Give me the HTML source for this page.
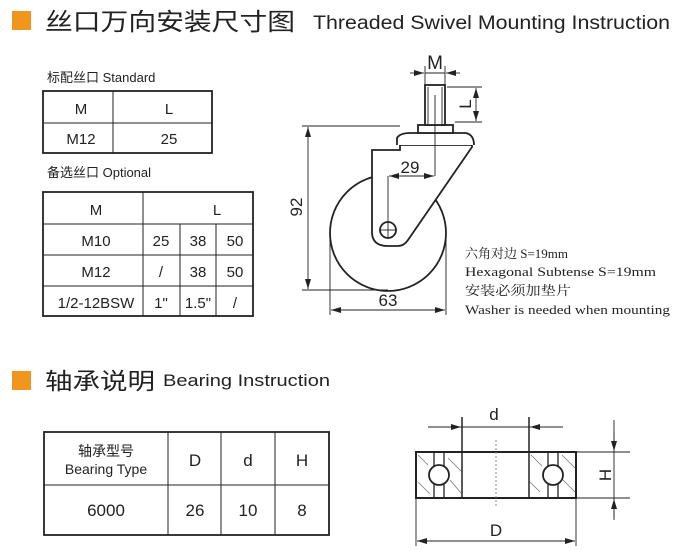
<!DOCTYPE html>
<html><head><meta charset="utf-8"><style>
html,body{margin:0;padding:0;background:#fff;}
svg{display:block;}
.s{font-family:"Liberation Sans","Noto Sans CJK SC",sans-serif;fill:#222;}
.f{font-family:"Liberation Serif","Noto Serif CJK SC",serif;fill:#222;}
</style></head><body>
<svg width="679" height="553" viewBox="0 0 679 553" xmlns="http://www.w3.org/2000/svg">
<defs>
<marker id="a" viewBox="0 0 10 6" refX="10" refY="3" markerWidth="10" markerHeight="6" markerUnits="userSpaceOnUse" orient="auto"><path d="M0,0 L10,3 L0,6 z" fill="#222"/></marker>
</defs>
<rect x="12" y="11" width="19" height="19" fill="#f0961e"/>
<text x="45" y="30" class="s" font-size="24" textLength="250" lengthAdjust="spacingAndGlyphs">丝口万向安装尺寸图</text>
<text x="313" y="29" class="s" font-size="19" textLength="357" lengthAdjust="spacingAndGlyphs">Threaded Swivel Mounting Instruction</text>

<text x="47" y="82" class="s" font-size="13">标配丝口 Standard</text>
<g stroke="#222" fill="none">
<rect x="43" y="91" width="169" height="62" stroke-width="1.8"/>
<line x1="43" y1="123" x2="212" y2="123"/>
<line x1="113" y1="91" x2="113" y2="153"/>
</g>
<g class="s" font-size="15" text-anchor="middle">
<text x="81" y="114">M</text><text x="169" y="114">L</text>
<text x="81" y="144">M12</text><text x="169" y="144">25</text>
</g>

<text x="47" y="177" class="s" font-size="13">备选丝口 Optional</text>
<g stroke="#222" fill="none">
<rect x="43" y="192" width="210" height="124" stroke-width="1.8"/>
<line x1="43" y1="224" x2="253" y2="224"/>
<line x1="43" y1="255" x2="253" y2="255"/>
<line x1="43" y1="286" x2="253" y2="286"/>
<line x1="143" y1="192" x2="143" y2="316"/>
<line x1="180" y1="224" x2="180" y2="316"/>
<line x1="216" y1="224" x2="216" y2="316"/>
</g>
<g class="s" font-size="15" text-anchor="middle">
<text x="96" y="215">M</text><text x="217" y="215">L</text>
<text x="96" y="246">M10</text><text x="161" y="246">25</text><text x="198" y="246">38</text><text x="235" y="246">50</text>
<text x="96" y="277">M12</text><text x="161" y="277">/</text><text x="198" y="277">38</text><text x="235" y="277">50</text>
<text x="96" y="308">1/2-12BSW</text><text x="161" y="308">1"</text><text x="198" y="308">1.5"</text><text x="235" y="308">/</text>
</g>

<g stroke="#222" fill="none" stroke-width="1.8">
<circle cx="388" cy="233" r="58"/>
<path d="M372,150 L372,232 Q372,246 388,246 L398,246 Q404,246 408,240 L472,147 L472,145 L400,145 L400,150 Z" fill="#fff"/>
<path d="M397,145 L397,138 Q400,133 410,133 L466,133 Q474,135 474,145" fill="#fff"/>
<rect x="418" y="125" width="35" height="8" fill="#fff"/>
<rect x="425" y="85" width="20" height="40" fill="#fff"/>
<circle cx="388" cy="230" r="8" fill="#fff"/>
</g>
<g stroke="#222" stroke-width="0.9" fill="none">
<line x1="428" y1="87" x2="428" y2="125"/>
<line x1="442" y1="87" x2="442" y2="125"/>
<line x1="380" y1="230" x2="396" y2="230"/>
<line x1="388" y1="222" x2="388" y2="238"/>
<line x1="435" y1="95" x2="435" y2="176"/>
<line x1="388" y1="176" x2="388" y2="222"/>
<line x1="302" y1="126" x2="400" y2="126"/>
<line x1="302" y1="290" x2="388" y2="290"/>
<line x1="308" y1="208" x2="308" y2="127" marker-end="url(#a)"/>
<line x1="308" y1="208" x2="308" y2="289" marker-end="url(#a)"/>
<line x1="330" y1="233" x2="330" y2="315"/>
<line x1="446" y1="233" x2="446" y2="315"/>
<line x1="388" y1="310" x2="331" y2="310" marker-end="url(#a)"/>
<line x1="388" y1="310" x2="445" y2="310" marker-end="url(#a)"/>
<line x1="412" y1="176" x2="389" y2="176" marker-end="url(#a)"/>
<line x1="412" y1="176" x2="434" y2="176" marker-end="url(#a)"/>
<line x1="425" y1="66" x2="425" y2="85"/>
<line x1="445" y1="66" x2="445" y2="85"/>
<line x1="410" y1="73" x2="424" y2="73" marker-end="url(#a)"/>
<line x1="460" y1="73" x2="446" y2="73" marker-end="url(#a)"/>
<line x1="425" y1="73" x2="445" y2="73"/>
<line x1="447" y1="87" x2="482" y2="87"/>
<line x1="455" y1="122" x2="482" y2="122"/>
<line x1="476" y1="104" x2="476" y2="88" marker-end="url(#a)"/>
<line x1="476" y1="104" x2="476" y2="121" marker-end="url(#a)"/>
</g>
<g class="s" font-size="17" text-anchor="middle">
<text x="435" y="69" font-size="19">M</text>
<text x="410" y="173">29</text>
<text x="388" y="306">63</text>
<text transform="translate(302,207) rotate(-90)" >92</text>
<text transform="translate(471,104) rotate(-90)">L</text>
</g>
<g class="f" font-size="13">
<text x="465" y="258" textLength="103" lengthAdjust="spacingAndGlyphs">六角对边 S=19mm</text>
<text x="465" y="276" textLength="191" lengthAdjust="spacingAndGlyphs">Hexagonal Subtense S=19mm</text>
<text x="465" y="295" textLength="106" lengthAdjust="spacingAndGlyphs">安装必须加垫片</text>
<text x="465" y="314" textLength="205" lengthAdjust="spacingAndGlyphs">Washer is needed when mounting</text>
</g>

<rect x="12" y="371" width="19" height="19" fill="#f0961e"/>
<text x="45" y="389" class="s" font-size="23" textLength="110" lengthAdjust="spacingAndGlyphs">轴承说明</text>
<text x="163" y="386" class="s" font-size="17" textLength="167" lengthAdjust="spacingAndGlyphs">Bearing Instruction</text>

<g stroke="#222" fill="none">
<rect x="44" y="432" width="285" height="103" stroke-width="1.8"/>
<line x1="44" y1="485" x2="329" y2="485"/>
<line x1="168" y1="432" x2="168" y2="535"/>
<line x1="221" y1="432" x2="221" y2="535"/>
<line x1="275" y1="432" x2="275" y2="535"/>
</g>
<g class="s" text-anchor="middle">
<text x="106" y="456" font-size="14">轴承型号</text>
<text x="106" y="474" font-size="14">Bearing Type</text>
<text x="195" y="466" font-size="17">D</text><text x="248" y="466" font-size="17">d</text><text x="302" y="466" font-size="17">H</text>
<text x="106" y="516" font-size="17">6000</text><text x="195" y="516" font-size="17">26</text><text x="248" y="516" font-size="17">10</text><text x="302" y="516" font-size="17">8</text>
</g>

<g stroke="#777" stroke-width="0.8">
<line x1="418" y1="455" x2="428" y2="465"/><line x1="448" y1="458" x2="461" y2="471"/>
<line x1="418" y1="482" x2="430" y2="494"/><line x1="450" y1="480" x2="461" y2="493"/>
<line x1="530" y1="482" x2="540" y2="492"/><line x1="531" y1="455" x2="542" y2="466"/>
<line x1="562" y1="455" x2="575" y2="468"/><line x1="563" y1="480" x2="575" y2="492"/>
</g>
<g stroke="#222" fill="none">
<rect x="416" y="452" width="160" height="46" stroke-width="2"/>
<line x1="462" y1="417" x2="462" y2="498" stroke-width="1.5"/>
<line x1="529" y1="417" x2="529" y2="498" stroke-width="1.5"/>
<line x1="434" y1="452" x2="434" y2="498" stroke-width="1.3"/>
<line x1="444" y1="452" x2="444" y2="498" stroke-width="1.3"/>
<line x1="548" y1="452" x2="548" y2="498" stroke-width="1.3"/>
<line x1="558" y1="452" x2="558" y2="498" stroke-width="1.3"/>
<circle cx="439" cy="475" r="10" fill="#fff" stroke-width="1.8"/>
<circle cx="553" cy="475" r="10" fill="#fff" stroke-width="1.8"/>
<line x1="496" y1="440" x2="496" y2="508" stroke="#888" stroke-dasharray="2,2"/>
<g stroke-width="0.9">
<line x1="428" y1="427" x2="563" y2="427"/>
<line x1="440" y1="427" x2="461" y2="427" marker-end="url(#a)"/>
<line x1="552" y1="427" x2="530" y2="427" marker-end="url(#a)"/>
<line x1="576" y1="452" x2="630" y2="452"/>
<line x1="576" y1="498" x2="630" y2="498"/>
<line x1="614" y1="420" x2="614" y2="520"/>
<line x1="614" y1="432" x2="614" y2="451" marker-end="url(#a)"/>
<line x1="614" y1="518" x2="614" y2="499" marker-end="url(#a)"/>
<line x1="416" y1="498" x2="416" y2="546"/>
<line x1="576" y1="498" x2="576" y2="546"/>
<line x1="496" y1="541" x2="417" y2="541" marker-end="url(#a)"/>
<line x1="496" y1="541" x2="575" y2="541" marker-end="url(#a)"/>
</g>
</g>
<g class="s" font-size="17" text-anchor="middle">
<text x="494" y="420">d</text>
<text x="496" y="536">D</text>
<text transform="translate(611,475) rotate(-90)">H</text>
</g>
</svg>
</body></html>
